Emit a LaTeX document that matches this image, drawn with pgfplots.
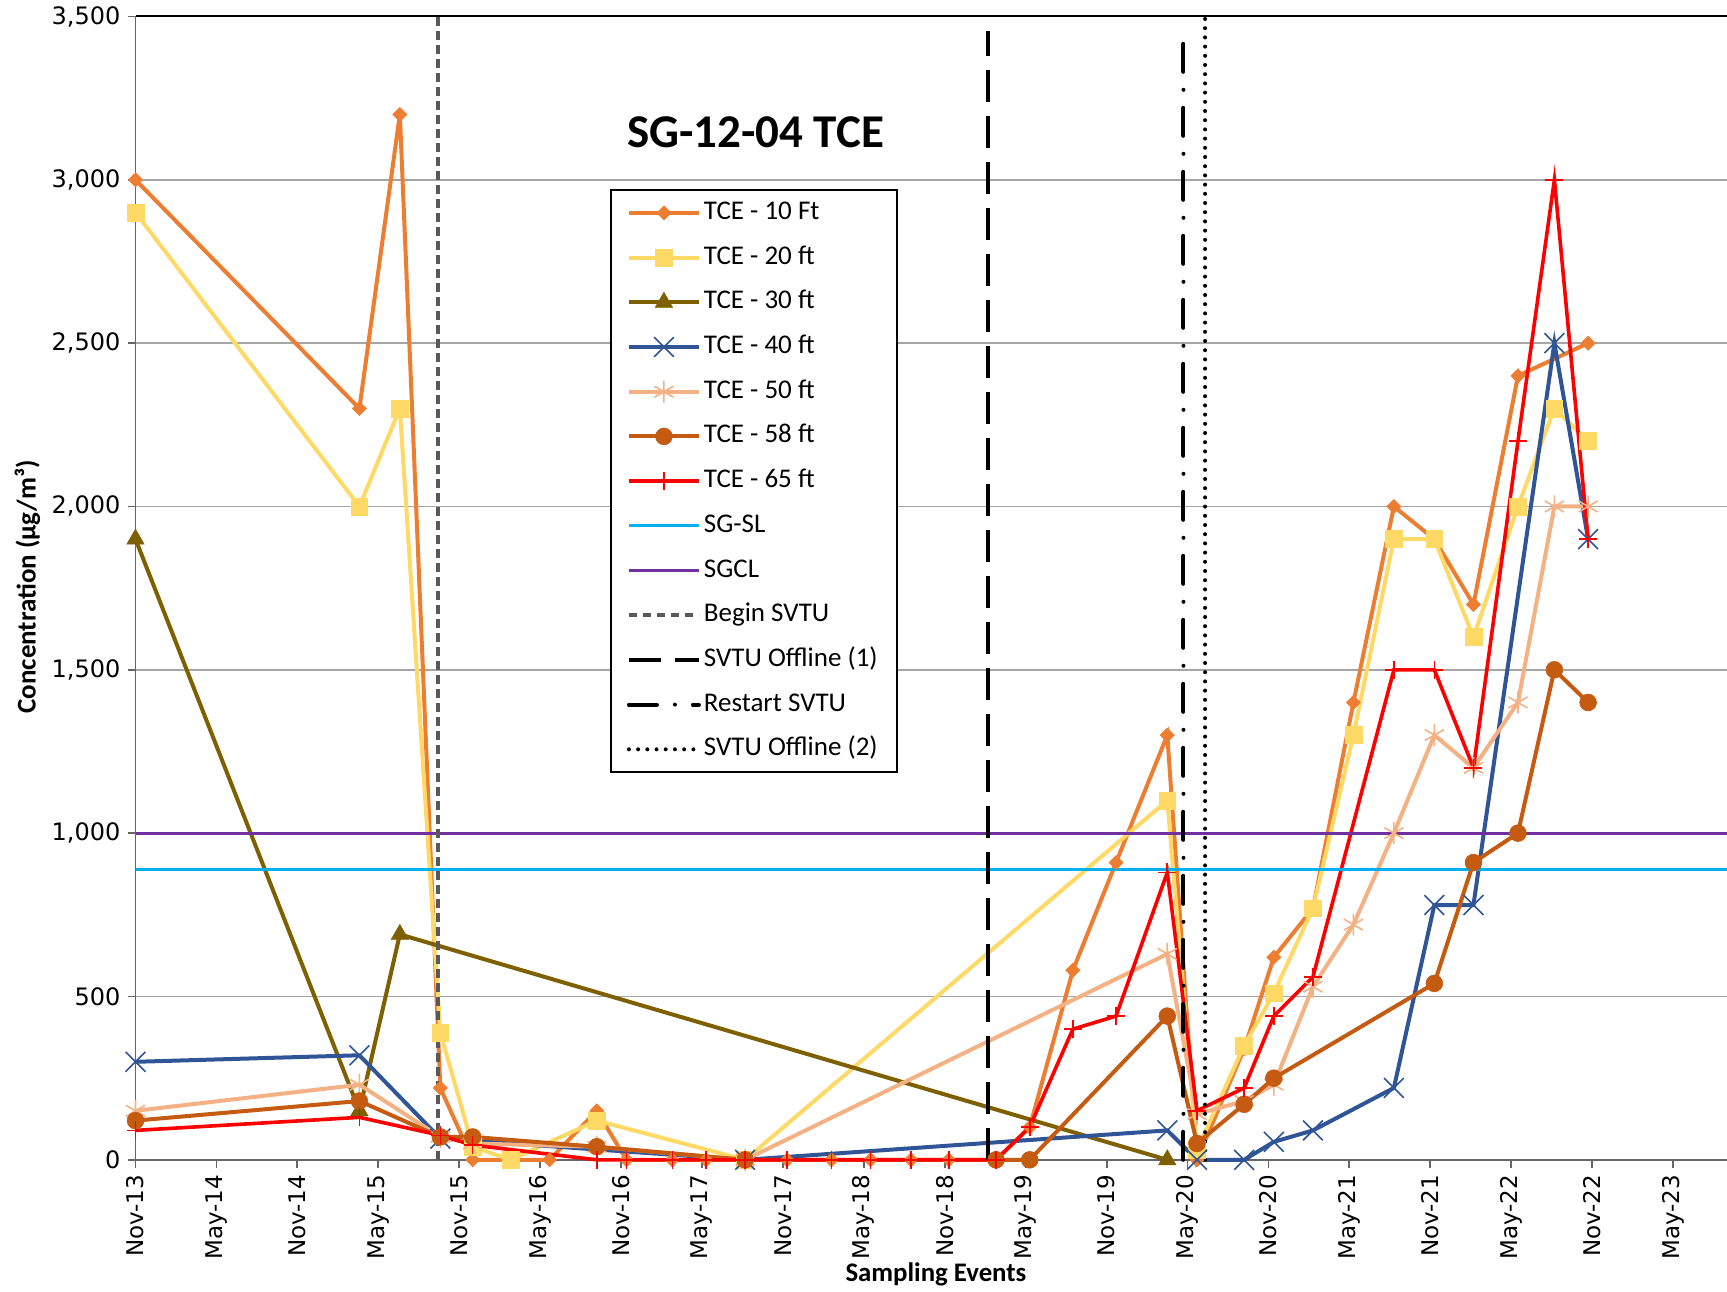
\documentclass[border=0pt]{standalone}
\usepackage{fontspec}
\setmainfont{Carlito}
\newfontfamily\tickfont{DejaVu Sans}
\usepackage{pgfplots}
\pgfplotsset{compat=1.18}
\definecolor{cA}{HTML}{ED7D31}
\definecolor{cB}{HTML}{FFD966}
\definecolor{cC}{HTML}{7F6000}
\definecolor{cD}{HTML}{2F5597}
\definecolor{cE}{HTML}{F4B183}
\definecolor{cF}{HTML}{C55A11}
\definecolor{cG}{HTML}{FF0000}
\definecolor{cSL}{HTML}{00B0F0}
\definecolor{cCL}{HTML}{7030A0}
\definecolor{cGray}{HTML}{595959}
\begin{document}
\begin{tikzpicture}
\begin{axis}[
  scale only axis, width=795.75pt, height=571.65pt,
  xmin=0, xmax=118, ymin=0, ymax=3500,
  axis x line*=bottom, axis y line*=left,
  axis line style={color=black!60, line width=0.9pt},
  xtick={0,6,...,114},
  xticklabels={Nov-13,May-14,Nov-14,May-15,Nov-15,May-16,Nov-16,May-17,Nov-17,May-18,Nov-18,May-19,Nov-19,May-20,Nov-20,May-21,Nov-21,May-22,Nov-22,May-23},
  ytick={0,500,...,3500},
  tick align=outside, major tick length=4pt,
  tick style={color=black!60, line width=0.9pt},
  xticklabel style={rotate=90, anchor=east, font=\tickfont\fontsize{11.5}{14}\selectfont},
  yticklabel style={font=\tickfont\fontsize{12}{14}\selectfont},
  /pgf/number format/1000 sep={,},
  /pgf/number format/assume math mode=true,
  ymajorgrids, grid style={color=black!35, line width=0.7pt},
  clip=false,
  legend cell align=left,
  legend image code/.code={\draw[mark repeat=2,mark phase=2,#1] plot coordinates {(0pt,0pt) (17.5pt,0pt) (35pt,0pt)};},
  legend style={at={(0.2981,0.8491)}, anchor=north west, draw=black, line width=1pt, fill=white,
    font=\fontsize{13.5}{16}\selectfont, inner xsep=8pt, inner ysep=3.2pt, row sep=5.85pt,
    nodes={inner sep=1.5pt, text height=10pt, text depth=3.5pt}},
]
% TCE - 10 Ft
\addplot[color=cA, line width=2pt, mark=square*, mark size=2.5pt, mark options={rotate=45, solid, line width=0.3pt}] coordinates {
(0,3000) (16.6,2300) (19.6,3200) (22.6,220) (25.0,0) (30.7,0) (34.2,150) (36.4,0) (39.8,0) (42.3,0) (45.2,0) (48.3,0) (51.6,0) (54.5,0) (57.5,0) (60.3,0) (63.8,0) (66.3,100) (69.5,580) (72.7,910) (76.5,1300) (78.7,0) (82.2,340) (84.4,620) (87.3,770) (90.3,1400) (93.3,2000) (96.3,1900) (99.2,1700) (102.5,2400) (107.7,2500)};
\addlegendentry{TCE - 10 Ft}
% TCE - 20 ft
\addplot[color=cB, line width=2pt, mark=square*, mark size=4.2pt, mark options={solid, line width=0.3pt}] coordinates {
(0,2900) (16.6,2000) (19.6,2300) (22.6,390) (25.0,40) (27.8,0) (34.2,120) (45.2,0) (76.5,1100) (78.7,30) (82.2,350) (84.4,510) (87.3,770) (90.3,1300) (93.3,1900) (96.3,1900) (99.2,1600) (102.5,2000) (105.2,2300) (107.7,2200)};
\addlegendentry{TCE - 20 ft}
% TCE - 30 ft
\addplot[color=cC, line width=2pt, mark=triangle*, mark size=5pt, mark options={solid, line width=0.3pt}] coordinates {
(0,1900) (16.6,150) (19.6,690) (76.5,0)};
\addlegendentry{TCE - 30 ft}
% TCE - 40 ft
\addplot[color=cD, line width=2pt, mark=x, mark size=7pt, mark options={solid, line width=0.8pt}] coordinates {
(0,300) (16.6,320) (22.6,65) (45.2,0) (76.5,90) (78.7,0) (82.2,0) (84.4,55) (87.3,90) (93.3,220) (96.3,780) (99.2,780) (105.2,2500) (107.7,1900)};
\addlegendentry{TCE - 40 ft}
% TCE - 50 ft
\addplot[color=cE, line width=2pt, mark=asterisk, mark size=5.5pt, mark options={solid, line width=0.8pt}] coordinates {
(0,150) (16.6,230) (22.6,70) (25.0,50) (34.2,40) (45.2,0) (76.5,630) (78.7,140) (82.2,180) (84.4,230) (87.3,530) (90.3,720) (93.3,1000) (96.3,1300) (99.2,1200) (102.5,1400) (105.2,2000) (107.7,2000)};
\addlegendentry{TCE - 50 ft}
% TCE - 58 ft
\addplot[color=cF, line width=2pt, mark=*, mark size=4.2pt, mark options={solid, line width=0.3pt}] coordinates {
(0,120) (16.6,180) (22.6,70) (25.0,70) (34.2,40) (45.2,0) (63.8,0) (66.3,0) (76.5,440) (78.7,50) (82.2,170) (84.4,250) (96.3,540) (99.2,910) (102.5,1000) (105.2,1500) (107.7,1400)};
\addlegendentry{TCE - 58 ft}
% TCE - 65 ft
\addplot[color=cG, line width=1.8pt, mark=+, mark size=4.5pt, mark options={solid, line width=0.8pt}] coordinates {
(0,90) (16.6,130) (22.6,75) (25.0,45) (34.2,0) (36.4,0) (39.8,0) (42.3,0) (45.2,0) (48.3,0) (51.6,0) (54.5,0) (57.5,0) (60.3,0) (63.8,0) (66.3,100) (69.5,400) (72.7,440) (76.5,880) (78.7,150) (82.2,220) (84.4,440) (87.3,560) (93.3,1500) (96.3,1500) (99.2,1200) (102.5,2200) (105.2,3000) (107.7,1900)};
\addlegendentry{TCE - 65 ft}
% SG-SL
\addplot[color=cSL, line width=1.5pt] coordinates {(0,890) (118,890)};
\addlegendentry{SG-SL}
% SGCL
\addplot[color=cCL, line width=1.5pt] coordinates {(0,1000) (118,1000)};
\addlegendentry{SGCL}
% Begin SVTU
\addplot[color=cGray, line width=2pt, dash pattern=on 4.2pt off 2.8pt] coordinates {(22.4,0) (22.4,3500)};
\addlegendentry{Begin SVTU}
% SVTU Offline (1)
\addplot[color=black, line width=2pt, dash pattern=on 16pt off 7pt] coordinates {(63.2,0) (63.2,3456)};
\addlegendentry{SVTU Offline (1)}
% Restart SVTU
\addplot[color=black, line width=2pt, line cap=round, dash pattern=on 14pt off 9pt on 0pt off 9pt] coordinates {(77.7,0) (77.7,3460)};
\addlegendentry{Restart SVTU}
% SVTU Offline (2)
\addplot[color=black, line width=2pt, line cap=round, dash pattern=on 0pt off 4.6pt] coordinates {(79.3,0) (79.3,3500)};
\addlegendentry{SVTU Offline (2)}
\end{axis}
\draw[black, line width=1pt] (current axis.north west) -- (current axis.north east);
\node[rotate=90, font=\bfseries\fontsize{13.5}{15}\selectfont] at ([shift={(-54pt,286.4pt)}]current axis.south west) {Concentration (µg/m³)};
\node[font=\bfseries\fontsize{13.4}{15}\selectfont] at ([shift={(400.2pt,-57.1pt)}]current axis.south west) {Sampling Events};
\node[font=\bfseries\fontsize{23.5}{28}\selectfont] at ([shift={(310pt,513.8pt)}]current axis.south west) {SG-12-04 TCE};
\pgfresetboundingbox
\path[use as bounding box] ([shift={(-67.75pt,-65.6pt)}]current axis.south west) rectangle ([shift={(0pt,8.25pt)}]current axis.north east);
\end{tikzpicture}
\end{document}
